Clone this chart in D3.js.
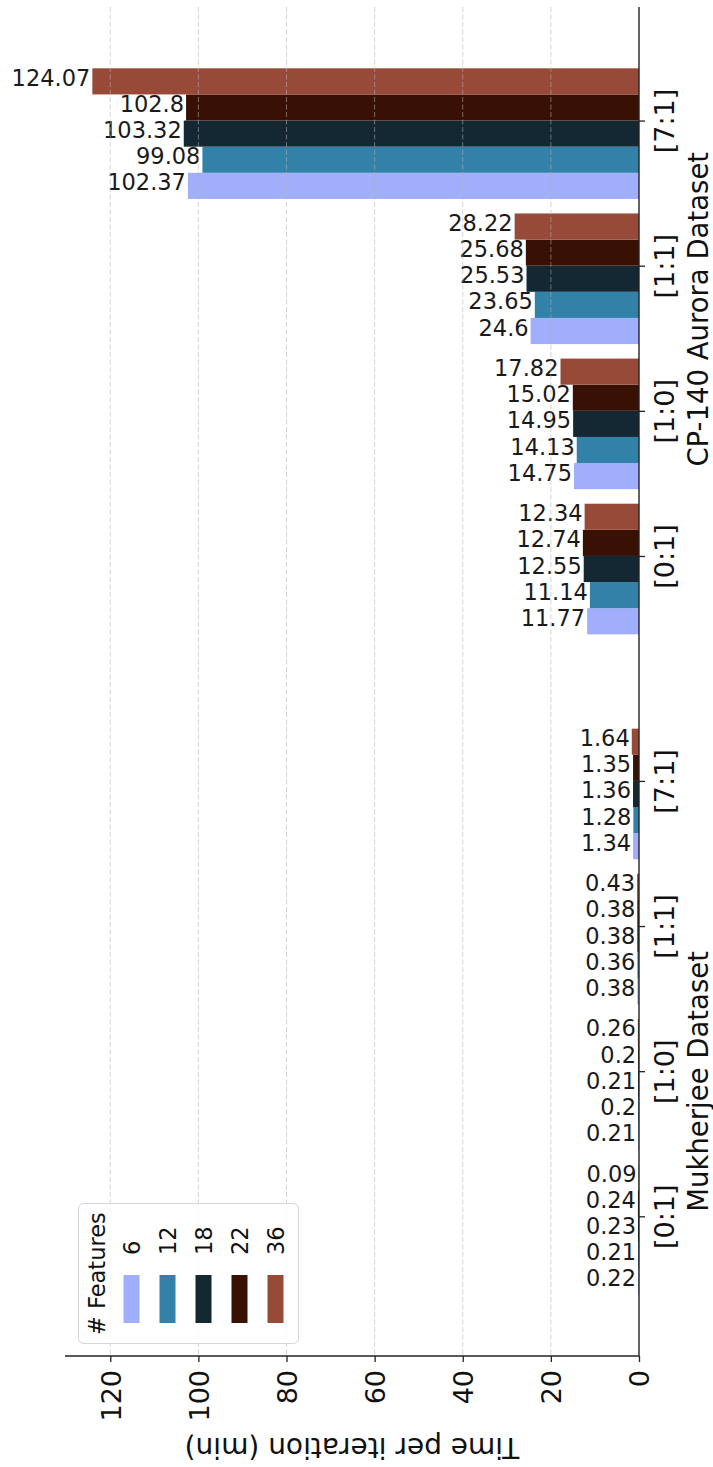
<!DOCTYPE html>
<html>
<head>
<meta charset="utf-8">
<script src="https://cdn.jsdelivr.net/npm/d3@7"></script>
<style>
  body { margin: 0; background: #fff; }
  svg { display: block; font-family: "DejaVu Sans", sans-serif; }
</style>
</head>
<body>
<svg id="chart"></svg>
<script>
const datasets = ['Mukherjee Dataset', 'CP-140 Aurora Dataset'];
const ratios = ['[0:1]', '[1:0]', '[1:1]', '[7:1]'];
const features = ['6', '12', '18', '22', '36'];
// minutes per iteration; one row per ratio, one column per feature count
const mukherjeeTimes = [
  [0.22, 0.21, 0.23, 0.24, 0.09],
  [0.21, 0.2, 0.21, 0.2, 0.26],
  [0.38, 0.36, 0.38, 0.38, 0.43],
  [1.34, 1.28, 1.36, 1.35, 1.64]
];
const auroraTimes = [
  [11.77, 11.14, 12.55, 12.74, 12.34],
  [14.75, 14.13, 14.95, 15.02, 17.82],
  [24.6, 23.65, 25.53, 25.68, 28.22],
  [102.37, 99.08, 103.32, 102.8, 124.07]
];
const valueTicks = [0, 20, 40, 60, 80, 100, 120];

const featureColors = ['#a0aefb', '#3281a8', '#142833', '#391104', '#984a38'];

const width = 713, height = 1467;
const plot = {left: 65, right: 639, top: 7, bottom: 1356};
const barW = 0.18, groupGap = 0.55;

// flatten into one row per bar; pos is the category position along the (rotated) x axis
const rows = [];
const groups = [];
[mukherjeeTimes, auroraTimes].forEach((table, di) => {
  table.forEach((vals, ri) => {
    const pos = di * (ratios.length + groupGap) + ri;
    groups.push({pos, label: ratios[ri], dataset: di});
    vals.forEach((v, fi) => rows.push({pos, fi, value: v}));
  });
});

const svg = d3.select('#chart')
    .attr('width', width)
    .attr('height', height);

const x = d3.scaleLinear()
    .domain([0, d3.max(rows, d => d.value) * 1.05])
    .range([plot.right, plot.left]);

const lo = d3.min(groups, d => d.pos) - 3 * barW;
const hi = d3.max(groups, d => d.pos) + 2 * barW;
const pad = (hi - lo) * 0.05;
const y = d3.scaleLinear()
    .domain([lo - pad, hi + pad])
    .range([plot.bottom, plot.top]);

// bars
const barTop = d => y(d.pos + (d.fi - 2) * barW);
const barBot = d => y(d.pos + (d.fi - 3) * barW);

svg.append('g').selectAll('rect')
    .data(rows)
  .join('rect')
    .attr('x', d => x(d.value))
    .attr('y', barTop)
    .attr('width', d => x(0) - x(d.value))
    .attr('height', d => barBot(d) - barTop(d))
    .attr('fill', d => featureColors[d.fi]);

// value labels
svg.append('g').selectAll('text')
    .data(rows)
  .join('text')
    .attr('x', d => x(d.value) - 2)
    .attr('y', d => (barTop(d) + barBot(d)) / 2)
    .attr('dy', '0.2em')
    .attr('text-anchor', 'end')
    .attr('font-size', 22.5)
    .attr('fill', '#1a1a1a')
    .text(d => d.value);

// gridlines (drawn over the bars, faint)
svg.append('g').selectAll('line')
    .data(valueTicks.filter(t => t > 0))
  .join('line')
    .attr('x1', d => x(d)).attr('x2', d => x(d))
    .attr('y1', plot.top).attr('y2', plot.bottom)
    .attr('stroke', '#b0b0b0')
    .attr('stroke-opacity', 0.55)
    .attr('stroke-dasharray', '5,2.5');

// value axis (bottom)
const xAxisG = svg.append('g')
    .attr('transform', `translate(0,${plot.bottom})`)
    .call(d3.axisBottom(x).tickValues(valueTicks).tickSize(6).tickSizeOuter(0))
    .call(g => g.select('.domain').remove())
    .attr('font-family', null)
    .attr('font-size', null);
xAxisG.selectAll('line').attr('stroke', '#222').attr('stroke-width', 1.3);
xAxisG.selectAll('text')
    .attr('transform', 'rotate(-90)')
    .attr('x', -14)
    .attr('y', 0)
    .attr('dy', '0.36em')
    .style('text-anchor', 'end')
    .attr('font-size', 27)
    .attr('fill', '#111');

// category axis (right)
const catLabel = new Map(groups.map(g => [g.pos, g.label]));
const yAxisG = svg.append('g')
    .attr('transform', `translate(${plot.right},0)`)
    .call(d3.axisRight(y).tickValues(groups.map(g => g.pos)).tickFormat(p => catLabel.get(p)).tickSize(6))
    .call(g => g.select('.domain').remove())
    .attr('font-family', null)
    .attr('font-size', null);
yAxisG.selectAll('line').attr('stroke', '#222').attr('stroke-width', 1.3);
yAxisG.selectAll('text')
    .attr('transform', 'translate(34.5,0) rotate(-90)')
    .attr('x', 0)
    .attr('dy', 0)
    .style('text-anchor', 'middle')
    .attr('font-size', 27)
    .attr('fill', '#111');

// spines
svg.append('line')
    .attr('x1', plot.right).attr('x2', plot.right)
    .attr('y1', plot.top).attr('y2', plot.bottom)
    .attr('stroke', '#222').attr('stroke-width', 1.4);
svg.append('line')
    .attr('x1', plot.left).attr('x2', plot.right)
    .attr('y1', plot.bottom).attr('y2', plot.bottom)
    .attr('stroke', '#222').attr('stroke-width', 1.4);

// dataset labels
const datasetCenters = [0.93, 6.25];
svg.append('g').selectAll('text')
    .data(datasets)
  .join('text')
    .attr('transform', (d, i) => `translate(708,${y(datasetCenters[i])}) rotate(-90)`)
    .attr('text-anchor', 'middle')
    .attr('font-size', 27.5)
    .attr('fill', '#111')
    .text(d => d);

// axis title, upside down
svg.append('text')
    .attr('transform', `translate(${(plot.left + plot.right) / 2},1438) rotate(180)`)
    .attr('text-anchor', 'middle')
    .attr('font-size', 28)
    .attr('fill', '#111')
    .text('Time per iteration (min)');

// legend
const legend = svg.append('g');
legend.append('rect')
    .attr('x', 78.5).attr('y', 1203.5)
    .attr('width', 220).attr('height', 140)
    .attr('rx', 5)
    .attr('fill', '#fff').attr('fill-opacity', 0.8)
    .attr('stroke', '#d6d6d6');
legend.append('text')
    .attr('transform', 'translate(105,1335) rotate(-90)')
    .attr('font-size', 22.5)
    .attr('fill', '#111')
    .text('# Features');
const item = legend.selectAll('.item')
    .data(features)
  .join('g')
    .attr('class', 'item')
    .attr('transform', (d, i) => `translate(${131.5 + i * 36},0)`);
item.append('rect')
    .attr('x', -8).attr('y', 1275)
    .attr('width', 16).attr('height', 48)
    .attr('fill', (d, i) => featureColors[i]);
item.append('text')
    .attr('transform', 'translate(8.2,1255) rotate(-90)')
    .attr('font-size', 22.5)
    .attr('fill', '#111')
    .text(d => d);
</script>
</body>
</html>
